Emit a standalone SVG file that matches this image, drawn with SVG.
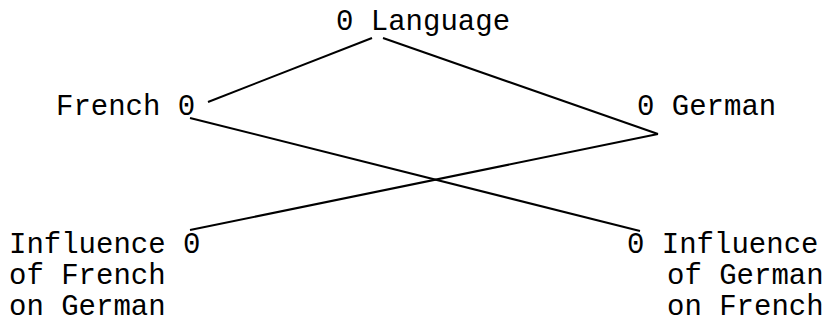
<svg xmlns="http://www.w3.org/2000/svg" width="830" height="323" viewBox="0 0 830 323">
<style>
text{font-family:"Liberation Mono","Courier New",monospace;font-size:29px;fill:#000}
.e{stroke:#000;stroke-width:2;fill:none}
</style>
<rect width="830" height="323" fill="#fff"/>
<g id="connectors">
<line class="e" x1="372" y1="38" x2="208" y2="102"/>
<line class="e" x1="383" y1="38" x2="658" y2="134"/>
<line class="e" x1="190" y1="118" x2="640" y2="231"/>
<line class="e" x1="658" y1="134" x2="190" y2="230"/>
</g>
<g id="language"><text x="336" y="30">0 Language</text></g>
<g id="french"><text x="56" y="115">French 0</text></g>
<g id="german"><text x="637" y="115">0 German</text></g>
<g id="influence-french"><text x="9" y="253">Influence 0</text><text x="9" y="284">of French</text><text x="9" y="315">on German</text></g>
<g id="influence-german"><text x="627" y="253">0 Influence</text><text x="667" y="284">of German</text><text x="667" y="315">on French</text></g>
</svg>
